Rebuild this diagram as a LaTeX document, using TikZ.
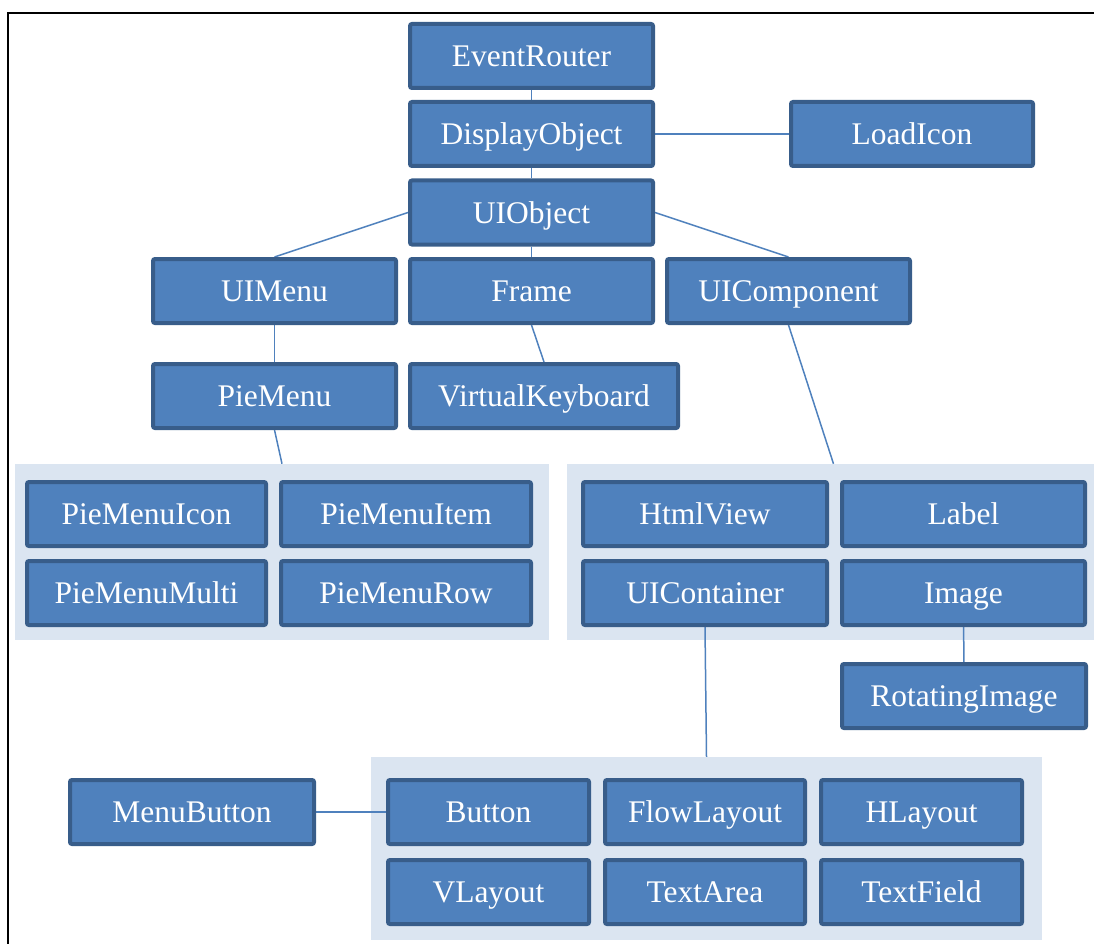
\documentclass[tikz,border=0pt]{standalone}
\usepackage{fontspec}
\setmainfont{Liberation Serif}
\usetikzlibrary{positioning}
\definecolor{boxfill}{HTML}{4F81BD}
\definecolor{boxline}{HTML}{385D8A}
\definecolor{groupfill}{HTML}{DBE5F1}
\pgfdeclarelayer{grouplayer}
\pgfdeclarelayer{linklayer}
\pgfsetlayers{grouplayer,linklayer,main}
\tikzset{
  cls/.style={draw=boxline, fill=boxfill, line width=4pt, rounded corners=2pt,
    text=white, font=\fontsize{31.5}{36}\selectfont, inner sep=0pt,
    text height=26pt, text depth=5pt, minimum height=64pt},
  grp/.style={fill=groupfill, draw=none, inner sep=0pt},
  link/.style={draw=boxfill, line width=1.5pt},
}
\begin{document}
\begin{tikzpicture}[x=1pt,y=-1pt]
\useasboundingbox (0,0) rectangle (1094,944);
% page frame
\draw[line width=2pt, black] (8,944) -- (8,13) -- (1094,13);

% group panels
\begin{pgfonlayer}{grouplayer}
\node[grp, minimum width=534pt, minimum height=176pt] (g1) at (282,552) {};
\node[grp, minimum width=533pt, minimum height=176pt] (g2) at (833.5,552) {};
\node[grp, minimum width=671pt, minimum height=183pt] (g3) at (706.5,848.5) {};
\end{pgfonlayer}

% class boxes
\node[cls, minimum width=243pt] (er) at (531.5,56) {EventRouter};
\node[cls, minimum width=243pt] (do) at (531.5,134) {DisplayObject};
\node[cls, minimum width=242pt] (li) at (912,134) {LoadIcon};
\node[cls, minimum width=243pt] (uio) at (531.5,212.5) {UIObject};
\node[cls, minimum width=243pt] (uim) at (274.5,291) {UIMenu};
\node[cls, minimum width=243pt] (fr) at (531.5,291) {Frame};
\node[cls, minimum width=243pt] (uic) at (788.5,291) {UIComponent};
\node[cls, minimum width=243pt] (pm) at (274.5,396) {PieMenu};
\node[cls, minimum width=268pt] (vk) at (544,396) {VirtualKeyboard};

\node[cls, minimum width=239pt] (pmi) at (146.5,514) {PieMenuIcon};
\node[cls, minimum width=250pt] (pmit) at (406,514) {PieMenuItem};
\node[cls, minimum width=239pt] (pmm) at (146.5,593) {PieMenuMulti};
\node[cls, minimum width=250pt] (pmr) at (406,593) {PieMenuRow};

\node[cls, minimum width=244pt] (hv) at (705,514) {HtmlView};
\node[cls, minimum width=243pt] (lb) at (963.5,514) {Label};
\node[cls, minimum width=244pt] (uicon) at (705,593) {UIContainer};
\node[cls, minimum width=243pt] (img) at (963.5,593) {Image};
\node[cls, minimum width=244pt] (ri) at (964,696) {RotatingImage};

\node[cls, minimum width=244pt] (mb) at (192,812) {MenuButton};
\node[cls, minimum width=201pt] (bt) at (488.5,812) {Button};
\node[cls, minimum width=200pt] (fl) at (705,812) {FlowLayout};
\node[cls, minimum width=201pt] (hl) at (921.5,812) {HLayout};
\node[cls, minimum width=201pt] (vl) at (488.5,892) {VLayout};
\node[cls, minimum width=200pt] (ta) at (705,892) {TextArea};
\node[cls, minimum width=201pt] (tf) at (921.5,892) {TextField};

% inheritance links
\begin{pgfonlayer}{linklayer}
\draw[link] (er) -- (do);
\draw[link] (do) -- (li);
\draw[link] (do) -- (uio);
\draw[link] (uio.west) -- (uim.north);
\draw[link] (uio) -- (fr);
\draw[link] (uio.east) -- (uic.north);
\draw[link] (uim) -- (pm);
\draw[link] (fr.south) -- (vk.north);
\draw[link] (pm.south) -- (g1.north);
\draw[link] (uic.south) -- (g2.north);
\draw[link] (img) -- (ri);
\draw[link] (uicon.south) -- (g3.north);
\draw[link] (mb) -- (bt);
\end{pgfonlayer}
\end{tikzpicture}
\end{document}
